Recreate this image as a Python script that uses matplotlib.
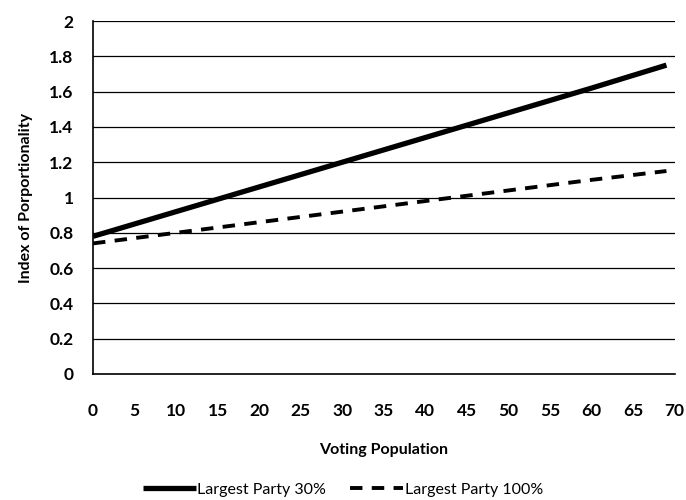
import matplotlib
matplotlib.use('Agg')
import matplotlib.pyplot as plt

plt.rcParams['font.family'] = ['Lato', 'DejaVu Sans']

# values
voting_pop = [0, 10, 20, 30, 40, 50, 60, 69]
party_30 = [0.78, 0.92, 1.06, 1.20, 1.34, 1.48, 1.62, 1.75]
party_100 = [0.74, 0.80, 0.86, 0.92, 0.98, 1.04, 1.10, 1.15]

x_ticks = list(range(0, 71, 5))
y_ticks = [0, 0.2, 0.4, 0.6, 0.8, 1, 1.2, 1.4, 1.6, 1.8, 2]
y_labels = ['0', '0.2', '0.4', '0.6', '0.8', '1', '1.2', '1.4', '1.6', '1.8', '2']

fig = plt.figure(figsize=(6.86, 5), dpi=100)
ax = fig.add_axes([0.1356, 0.252, 0.848, 0.706])

for y in y_ticks[1:]:
    ax.axhline(y, color='black', linewidth=0.9, zorder=1)

ax.plot(voting_pop, party_30, color='black', linewidth=3.8,
        solid_capstyle='butt', label='Largest Party 30%', zorder=3)
ax.plot(voting_pop, party_100, color='black', linewidth=2.8,
        dashes=(3.2, 2.4), label='Largest Party 100%', zorder=3)

ax.set_xlim(0, 70)
ax.set_ylim(0, 2)
ax.set_xticks(x_ticks)
ax.set_xticklabels([str(t) for t in x_ticks], fontsize=12.5, fontweight='bold')
ax.set_yticks(y_ticks)
ax.set_yticklabels(y_labels, fontsize=12.5, fontweight='bold')
ax.tick_params(axis='both', length=0)
ax.tick_params(axis='x', pad=21)
ax.tick_params(axis='y', pad=14)

for side in ['top', 'right']:
    ax.spines[side].set_visible(False)
ax.spines['left'].set_linewidth(1.2)
ax.spines['bottom'].set_linewidth(1.2)

ax.set_xlabel('Voting Population', fontsize=11.5, fontweight='bold', labelpad=17)
ax.set_ylabel('Index of Porportionality', fontsize=11.5, fontweight='bold', labelpad=12)

fig.legend(loc='lower center', bbox_to_anchor=(0.5, -0.022), ncol=2, frameon=False,
           fontsize=11.5, handlelength=3.3, handletextpad=0.1, columnspacing=1.5)

fig.savefig('out.png', dpi=100)
